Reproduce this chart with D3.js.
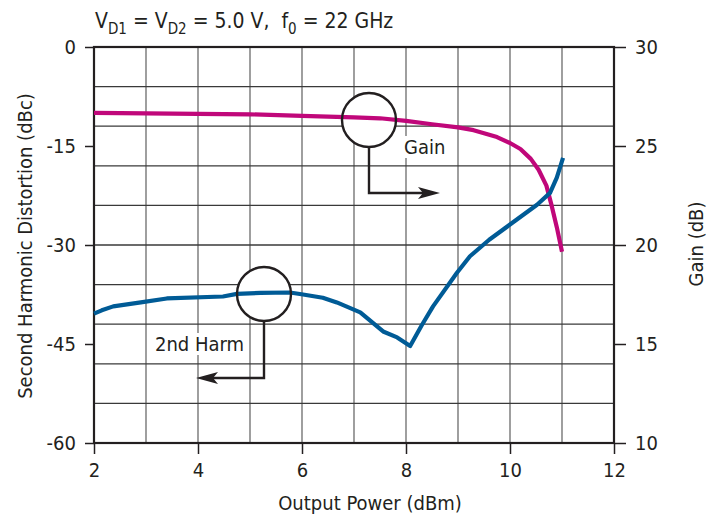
<!DOCTYPE html>
<html>
<head>
<meta charset="utf-8">
<script src="https://cdn.jsdelivr.net/npm/d3@7"></script>
<style>
  body { margin: 0; background: #fff; }
  text { font-family: "DejaVu Sans Condensed", "Liberation Sans Narrow", sans-serif; fill: #231f20; }
</style>
</head>
<body>
<svg id="svg" width="718" height="521"></svg>
<script>
//Data
const POWER_TICKS = [2, 4, 6, 8, 10, 12];
const HARM_TICKS = [0, -15, -30, -45, -60];
const GAIN_TICKS = [30, 25, 20, 15, 10];
const GAIN_POWER = [2, 3, 4, 5, 6, 7, 7.5, 8, 8.5, 9, 9.3, 9.75, 10, 10.2, 10.4, 10.55, 10.7, 10.8, 10.9, 11];
const GAIN_VALUES = [26.67, 26.65, 26.62, 26.6, 26.52, 26.45, 26.4, 26.27, 26.1, 25.94, 25.8, 25.45, 25.15, 24.85, 24.35, 23.8, 23.0, 22.0, 20.9, 19.66];
const HARM_POWER = [2, 2.15, 2.37, 2.9, 3.4, 4.48, 4.75, 5.2, 5.77, 6.02, 6.4, 6.67, 7.12, 7.56, 7.83, 8.08, 8.3, 8.52, 8.98, 9.23, 9.6, 10, 10.52, 10.77, 10.9, 11.02];
const HARM_VALUES = [-40.4, -39.9, -39.3, -38.7, -38.1, -37.8, -37.4, -37.25, -37.2, -37.5, -38.0, -38.7, -40.2, -43.1, -44.0, -45.3, -42.2, -39.3, -34.2, -31.7, -29.2, -26.9, -23.9, -22.1, -19.8, -16.8];

const MAGENTA = "#c0077a";
const BLUE = "#005b96";

const LEFT = 94, RIGHT = 614, TOP = 47, BOTTOM = 443;

let svg = d3.select("#svg");

let x_scale = d3.scaleLinear().domain([2, 12]).range([LEFT, RIGHT]);
let harm_scale = d3.scaleLinear().domain([-60, 0]).range([BOTTOM, TOP]);
let gain_scale = d3.scaleLinear().domain([10, 30]).range([BOTTOM, TOP]);

//Grid: 1 dBm columns, 10 rows
let grid = svg.append("g");
grid.selectAll("line.v")
    .data(d3.range(3, 12))
    .enter().append("line")
    .attr("x1", d => x_scale(d)).attr("x2", d => x_scale(d))
    .attr("y1", TOP).attr("y2", BOTTOM)
    .attr("stroke", "#6b6b6b").attr("stroke-width", 1.3);
grid.selectAll("line.h")
    .data(d3.range(1, 10))
    .enter().append("line")
    .attr("x1", LEFT).attr("x2", RIGHT)
    .attr("y1", d => TOP + (BOTTOM - TOP) * d / 10).attr("y2", d => TOP + (BOTTOM - TOP) * d / 10)
    .attr("stroke", "#3a3a3a").attr("stroke-width", 1.3);

//Axes
function styleAxis(g)
{
    g.select(".domain").remove();
    g.selectAll(".tick line").attr("stroke", "#231f20").attr("stroke-width", 1.5);
    g.selectAll(".tick text").attr("font-size", 20).attr("fill", "#231f20")
        .attr("font-family", "DejaVu Sans Condensed, sans-serif");
}
let plain = d => String(d);

svg.append("g")
    .attr("transform", "translate(0," + BOTTOM + ")")
    .call(d3.axisBottom(x_scale).tickValues(POWER_TICKS).tickFormat(plain).tickSize(11).tickPadding(9))
    .call(styleAxis);

svg.append("g")
    .attr("transform", "translate(" + LEFT + ",0)")
    .call(d3.axisLeft(harm_scale).tickValues(HARM_TICKS).tickFormat(plain).tickSize(9).tickPadding(9))
    .call(styleAxis);

svg.append("g")
    .attr("transform", "translate(" + RIGHT + ",0)")
    .call(d3.axisRight(gain_scale).tickValues(GAIN_TICKS).tickFormat(plain).tickSize(12).tickPadding(9))
    .call(styleAxis);

//Frame
svg.append("rect")
    .attr("x", LEFT).attr("y", TOP)
    .attr("width", RIGHT - LEFT).attr("height", BOTTOM - TOP)
    .attr("fill", "none").attr("stroke", "#231f20").attr("stroke-width", 2.2);

//Annotation backgrounds
const NOTES = [
    { cx: 369, cy: 120, label: "Gain", lx: 404, ly: 154, down: 193, tip: 440 },
    { cx: 264, cy: 294, label: "2nd Harm", lx: 155, ly: 351, down: 378, tip: 196 }
];
let notes = svg.append("g");
NOTES.forEach(n => {
    let t = notes.append("text")
        .attr("x", n.lx).attr("y", n.ly)
        .attr("font-size", 20)
        .text(n.label);
    let b = t.node().getBBox();
    notes.insert("rect", "text")
        .attr("x", b.x - 2).attr("y", b.y + 1)
        .attr("width", b.width + 4).attr("height", b.height - 2)
        .attr("fill", "#fff");
    notes.append("circle")
        .attr("cx", n.cx).attr("cy", n.cy).attr("r", 27)
        .attr("fill", "#fff");
});

//Curves
let line = d3.line().curve(d3.curveLinear);

svg.append("path")
    .attr("d", line(GAIN_POWER.map((p, i) => [x_scale(p), gain_scale(GAIN_VALUES[i])])))
    .attr("fill", "none").attr("stroke", MAGENTA).attr("stroke-width", 4.2)
    .attr("stroke-linejoin", "round");

svg.append("path")
    .attr("d", line(HARM_POWER.map((p, i) => [x_scale(p), harm_scale(HARM_VALUES[i])])))
    .attr("fill", "none").attr("stroke", BLUE).attr("stroke-width", 4.2)
    .attr("stroke-linejoin", "round");

//Annotation circles and arrows
NOTES.forEach(n => {
    svg.append("circle")
        .attr("cx", n.cx).attr("cy", n.cy).attr("r", 27)
        .attr("fill", "none").attr("stroke", "#231f20").attr("stroke-width", 2.4);
    let dir = n.tip > n.cx ? 1 : -1;
    let end = n.tip - dir * 12;
    svg.append("path")
        .attr("d", "M" + n.cx + "," + (n.cy + 27) + "V" + n.down + "H" + end)
        .attr("fill", "none").attr("stroke", "#231f20").attr("stroke-width", 2.4);
    let b = n.tip - dir * 22;
    svg.append("path")
        .attr("d", "M" + n.tip + "," + n.down + "L" + b + "," + (n.down - 6) + "L" + (b + dir * 5) + "," + n.down + "L" + b + "," + (n.down + 6) + "Z")
        .attr("fill", "#231f20");
});

//Title and axis labels
let title = svg.append("text").attr("x", 95).attr("y", 28).attr("font-size", 21);
title.append("tspan").text("V");
title.append("tspan").attr("dy", 6).attr("font-size", 15).text("D1");
title.append("tspan").attr("dy", -6).text(" = V");
title.append("tspan").attr("dy", 6).attr("font-size", 15).text("D2");
title.append("tspan").attr("dy", -6).text(" = 5.0 V,\u00a0 f");
title.append("tspan").attr("dy", 6).attr("font-size", 15).text("0");
title.append("tspan").attr("dy", -6).text(" = 22 GHz");

svg.append("text")
    .attr("x", 370).attr("y", 510)
    .attr("text-anchor", "middle").attr("font-size", 20)
    .text("Output Power (dBm)");

svg.append("text")
    .attr("transform", "translate(32,246) rotate(-90)")
    .attr("text-anchor", "middle").attr("font-size", 20)
    .text("Second Harmonic Distortion (dBc)");

svg.append("text")
    .attr("transform", "translate(703,244) rotate(-90)")
    .attr("text-anchor", "middle").attr("font-size", 20)
    .text("Gain (dB)");
</script>
</body>
</html>
